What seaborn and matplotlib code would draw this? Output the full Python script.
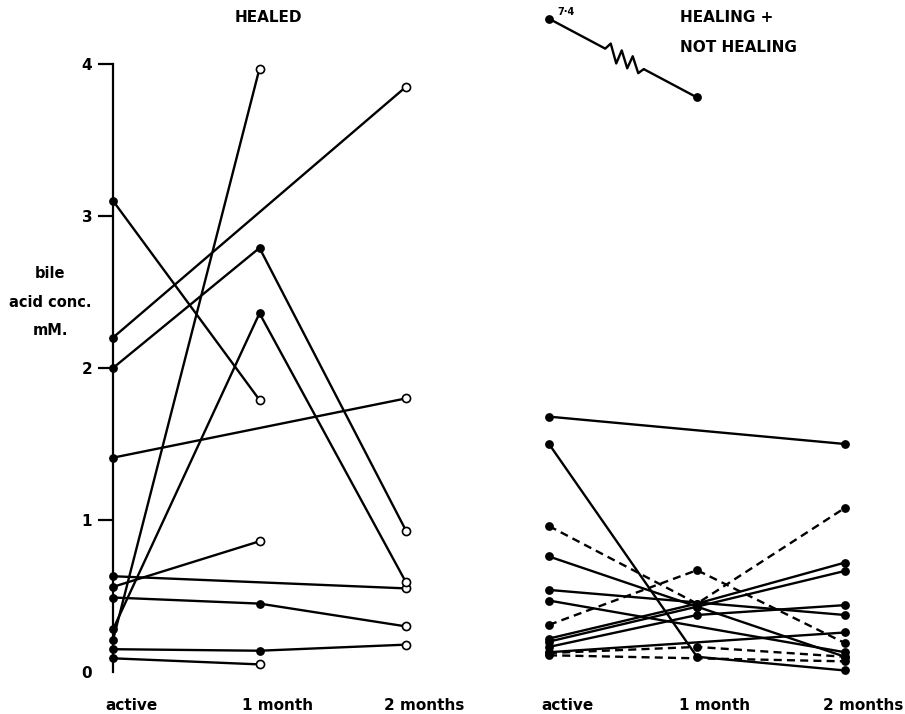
import numpy as np
import pandas as pd
import matplotlib
matplotlib.use("Agg")
import matplotlib.pyplot as plt
import matplotlib.transforms as mtransforms
from matplotlib.lines import Line2D
import seaborn as sns

nan = np.nan
visits = ["active", "1 month", "2 months"]

# Healed ulcers: one value per patient at each visit (nan = not sampled)
healed_active = [3.10, 2.20, 2.00, 1.41, 0.63, 0.56, 0.49, 0.28, 0.21, 0.15, 0.09]
healed_1month = [1.79, nan, 2.79, nan, nan, 0.86, 0.45, 2.36, 3.97, 0.14, 0.05]
healed_2months = [nan, 3.85, 0.93, 1.80, 0.55, nan, 0.30, 0.59, nan, 0.18, nan]

# Healing + not healing ulcers (dashed = not healing)
healing_active = [7.4, 1.68, 1.50, 0.96, 0.31, 0.125, 0.11,
                  0.76, 0.54, 0.47, 0.22, 0.20, 0.165, 0.13]
healing_1month = [3.78, nan, 0.10, 0.45, 0.67, 0.165, nan,
                  0.43, nan, nan, 0.45, 0.43, 0.375, nan]
healing_2months = [nan, 1.50, 0.01, 1.08, 0.19, 0.10, 0.07,
                   0.10, 0.375, 0.13, 0.72, 0.665, 0.44, 0.26]
healing_trace = ["solid", "solid", "solid", "dashed", "dashed", "dashed", "dashed",
                 "solid", "solid", "solid", "solid", "solid", "solid", "solid"]

y_ticks = [0, 1, 2, 3, 4]
off_scale_label = "7·4"


def to_long(first, second, third, trace):
    rows = []
    for pid, vals in enumerate(zip(first, second, third)):
        for pos, v in enumerate(vals):
            if not np.isnan(v):
                rows.append({"patient": pid, "pos": pos, "value": v, "trace": trace[pid]})
    df = pd.DataFrame(rows)
    df["last"] = df.groupby("patient")["pos"].transform("max") == df["pos"]
    return df


healed = to_long(healed_active, healed_1month, healed_2months, ["solid"] * len(healed_active))
healing = to_long(healing_active, healing_1month, healing_2months, healing_trace)

# y axis is linear up to 4.1 and strongly compressed above (broken scale)
BREAK, SQUEEZE = 4.1, 0.06


def fwd(v):
    v = np.asarray(v, dtype=float)
    return np.where(v <= BREAK, v, BREAK + (v - BREAK) * SQUEEZE)


def inv(t):
    t = np.asarray(t, dtype=float)
    return np.where(t <= BREAK, t, BREAK + (t - BREAK) / SQUEEZE)


sns.set_style("white")
plt.rcParams.update({
    "font.family": ["DejaVu Sans"],
    "font.weight": "bold",
    "text.color": "black",
    "axes.labelcolor": "black",
    "xtick.color": "black",
    "ytick.color": "black",
    "axes.edgecolor": "black",
})

W, H = 905, 714
fig = plt.figure(figsize=(W / 100, H / 100), dpi=100)

Y0_PX, PX_PER_Y = 672, 152
TOP_T = 4.4
ax_h = fig.add_axes([113 / W, (H - Y0_PX) / H, 2.2 * 146.5 / W, TOP_T * PX_PER_Y / H])
ax_n = fig.add_axes([549 / W, (H - Y0_PX) / H, 2.2 * 148 / W, TOP_T * PX_PER_Y / H])

LW = 1.7
for ax, df in [(ax_h, healed), (ax_n, healing)]:
    ax.set_yscale("function", functions=(fwd, inv))
    sns.lineplot(data=df, x="pos", y="value", units="patient", estimator=None,
                 style="trace", dashes={"solid": "", "dashed": (3.4, 2.2)},
                 color="black", lw=LW, sort=False, legend=False, ax=ax,
                 clip_on=False, zorder=2)
    ax.set_xlim(0, 2.2)
    ax.set_ylim(0, float(inv(TOP_T)))

# markers: filled dots, open circles where a healed series ends
sns.scatterplot(data=healed[~healed["last"]], x="pos", y="value", color="black",
                s=40, linewidth=0, legend=False, ax=ax_h, clip_on=False, zorder=4)
sns.scatterplot(data=healed[healed["last"]], x="pos", y="value", color="white",
                edgecolor="black", s=34, linewidth=1.2, legend=False, ax=ax_h,
                clip_on=False, zorder=4)
sns.scatterplot(data=healing, x="pos", y="value", color="black",
                s=40, linewidth=0, legend=False, ax=ax_n, clip_on=False, zorder=4)

# axes styling
for ax in (ax_h, ax_n):
    for side in ["top", "right", "bottom", "left"]:
        ax.spines[side].set_visible(False)
    ax.set_xlabel("")
    ax.set_ylabel("")
    ax.set_xticks(range(len(visits)))
    ax.set_xticklabels(visits, fontsize=11, fontweight="bold", color="black")
    ax.tick_params(axis="x", length=0, pad=19)
    shift = mtransforms.ScaledTranslation(18 / 100, 0, fig.dpi_scale_trans)
    for lab in ax.get_xticklabels():
        lab.set_transform(lab.get_transform() + shift)
    ax.set_facecolor("none")

ax_h.spines["left"].set_visible(True)
ax_h.spines["left"].set_color("black")
ax_h.spines["left"].set_linewidth(1.6)
ax_h.spines["left"].set_bounds(0, 4)
ax_h.set_yticks(y_ticks)
ax_h.set_yticklabels([str(t) for t in y_ticks], fontsize=11, fontweight="bold", color="black")
ax_h.tick_params(axis="y", direction="out", length=11, width=1.6, pad=4, left=True,
                 color="black")
ax_h.yaxis.get_major_ticks()[0].tick1line.set_visible(False)
ax_n.set_yticks([])

# titles and axis caption
title_kw = dict(va="center", fontsize=11, fontweight="bold", color="black")
fig.text(268 / W, 1 - 18 / H, "HEALED", ha="center", **title_kw)
fig.text(680 / W, 1 - 18 / H, "HEALING +", ha="left", **title_kw)
fig.text(680 / W, 1 - 48 / H, "NOT HEALING", ha="left", **title_kw)
fig.text(50 / W, 1 - 302 / H, "bile\nacid conc.\nmM.", ha="center", va="center",
         fontsize=10.5, fontweight="bold", linespacing=2.1, multialignment="center",
         color="black")

# value of the off-scale point
ax_n.annotate(off_scale_label, xy=(0, healing_active[0]), xytext=(6, 5),
              textcoords="offset points", ha="left", va="center",
              fontsize=7, fontweight="bold", color="black")

# zigzag break on the off-scale line
p0 = ax_n.transData.transform((0, healing_active[0]))
p1 = ax_n.transData.transform((1, healing_1month[0]))
ta, tb = 0.38, 0.64
seg = np.array([p0 + (p1 - p0) * ta, p0 + (p1 - p0) * tb])
to_fig = fig.transFigure.inverted()
seg_f = to_fig.transform(seg)
fig.add_artist(Line2D(seg_f[:, 0], seg_f[:, 1], color="white", lw=5,
                      transform=fig.transFigure, zorder=5, solid_capstyle="butt"))
ts = np.linspace(ta, tb, 8)
offsets = np.array([0, 8, -9, 7, -8, 7, -7, 0])
zig = np.array([p0 + (p1 - p0) * t for t in ts])
zig[:, 1] += offsets
zig_f = to_fig.transform(zig)
fig.add_artist(Line2D(zig_f[:, 0], zig_f[:, 1], color="black", lw=LW,
                      transform=fig.transFigure, zorder=6))

fig.savefig("out.png", dpi=100, facecolor="white")
